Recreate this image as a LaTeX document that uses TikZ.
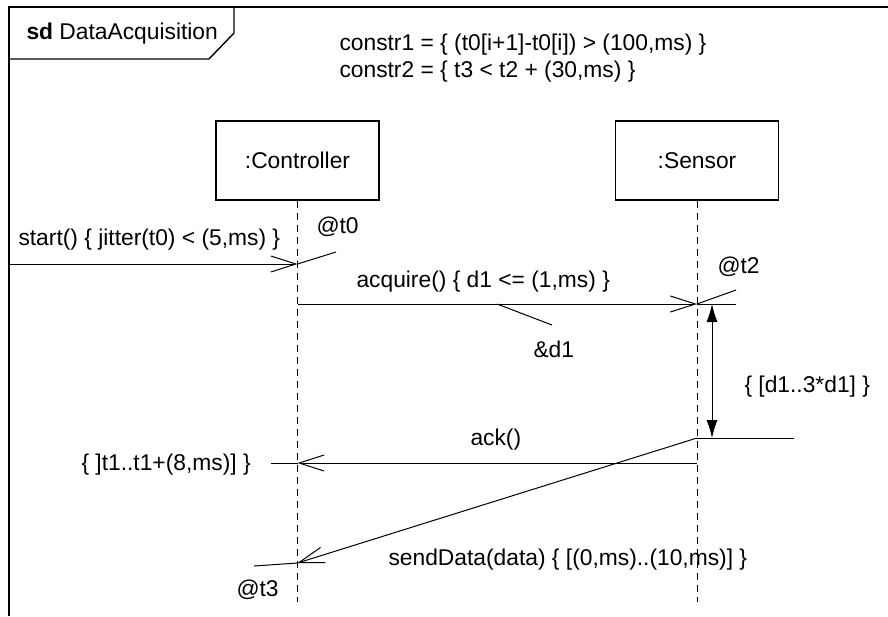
\documentclass[tikz,border=0pt]{standalone}
\usepackage{fontspec}
\setmainfont{Liberation Sans}
\usetikzlibrary{arrows.meta,positioning}
\begin{document}
\begin{tikzpicture}[>={Straight Barb[length=12.5pt,width=8pt]}, x=.5pt, y=-.5pt,
    font=\fontsize{11.4pt}{13.5pt}\selectfont, line width=.5pt,
    obj/.style={draw, line width=.7pt, minimum width=81.5pt, minimum height=39.5pt, inner sep=0pt},
    life/.style={dash pattern=on 3.5pt off 2.5pt},
    lbl/.style={anchor=base west, inner sep=0pt},
    dur/.style={{Latex[length=9pt,width=5.5pt]}-{Latex[length=9pt,width=5.5pt]}}]
\useasboundingbox (0,0) rectangle (888,616);
\draw[line width=.7pt] (888,7) -- (9,7) -- (9,616);
\draw[line width=.7pt] (9,59) -- (209,59) -- (234,33) -- (234,7);
\node[lbl] (title) at (26,39) {\textbf{sd} DataAcquisition};
\node[lbl] (cs1) at (339,50) {constr1 = \{ (t0[i+1]-t0[i]) > (100,ms) \}};
\node[lbl, below=13.5pt of cs1.base west, anchor=base west] (cs2) {constr2 = \{ t3 < t2 + (30,ms) \}};

\node[obj] (ctrl) at (297.5,160.5) {:Controller};
\node[obj] (sens) at (697,160.5) {:Sensor};
\draw[life] (ctrl) -- (ctrl |- 0,602);
\draw[life] (sens) -- (sens |- 0,602);

\coordinate (in) at (9,264);
\coordinate (c0) at (ctrl |- 0,264);
\coordinate (c1) at (ctrl |- 0,304);
\coordinate (s1) at (sens |- 0,304);
\coordinate (s2) at (sens |- 0,438);
\coordinate (s3) at (sens |- 0,463);
\coordinate (c3) at (ctrl |- 0,463);
\coordinate (c4) at (ctrl |- 0,563);

\draw[->] (in) -- (c0);
\node[lbl] (start) at (18,245) {start() \{ jitter(t0) < (5,ms) \}};
\draw (c0) -- (336,252) coordinate (t0end);
\node[lbl] (t0) at (316,233) {@t0};

\draw[->] (c1) -- (s1);
\node[lbl] (acq) at (356,287) {acquire() \{ d1 <= (1,ms) \}};
\draw (497,304) coordinate (d1a) -- (552,325) coordinate (d1b);
\node[lbl] (d1) at (533,357) {\&d1};
\draw (s1) -- (736,304) coordinate (s1end);
\draw (s1) -- (736,290) coordinate (t2end);
\node[lbl] (t2) at (717,273) {@t2};

\coordinate (dtop) at (712,304);
\coordinate (dbot) at (712,438);
\draw[dur] (dtop) -- (dbot);
\draw (s2) -- (794,438) coordinate (s2end);
\node[lbl] (dlbl) at (744,392) {\{ [d1..3*d1] \}};

\draw[->] (s3) -- (c3);
\draw (c3) -- (271,463) coordinate (c3end);
\node[lbl] (ack) at (470,445) {ack()};
\node[lbl] (t1) at (81,470) {\{ ]t1..t1+(8,ms)] \}};

\draw[->] (s2) -- (c4);
\draw (c4) -- (254,566) coordinate (t3end);
\node[lbl] (send) at (388,565) {sendData(data) \{ [(0,ms)..(10,ms)] \}};
\node[lbl] (t3) at (236,596) {@t3};
\end{tikzpicture}
\end{document}
